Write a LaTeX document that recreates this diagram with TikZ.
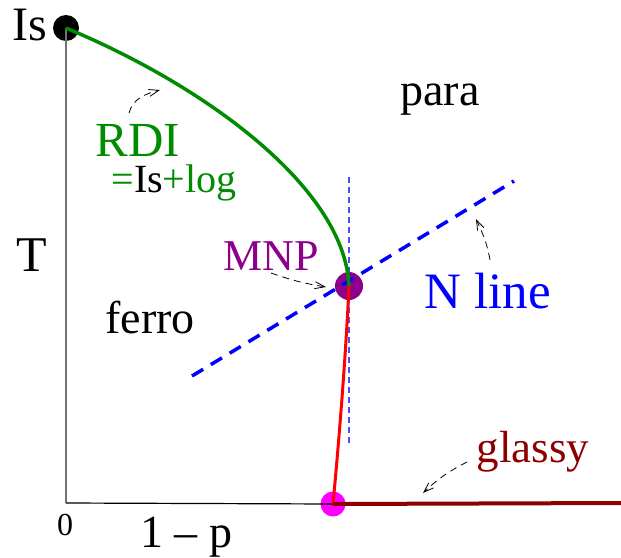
\documentclass[tikz,border=0pt]{standalone}
\usepackage{fontspec}
\setmainfont{Liberation Serif}
\usetikzlibrary{positioning,arrows.meta}

\definecolor{rdigreen}{rgb}{0,0.55,0}
\definecolor{mnppurple}{rgb}{0.55,0,0.55}
\definecolor{glassred}{rgb}{0.55,0,0}
\definecolor{pcpink}{rgb}{1,0,1}

\tikzset{
  lbl/.style={anchor=base,inner sep=0pt,font=\fontsize{46}{50}\selectfont},
  dot/.style={circle,fill,inner sep=0pt},
  hint/.style={-{Straight Barb[length=10pt,width=7pt]},line width=0.8pt,dash pattern=on 7pt off 5pt},
}

\begin{document}
\begin{tikzpicture}[x=1pt,y=-1pt]
\useasboundingbox (0,0) rectangle (621,557);

% dots
\node[dot,minimum size=26pt,black] (isdot) at (66,28) {};
\node[dot,minimum size=28pt,mnppurple] (mnp) at (349,286) {};
\node[dot,minimum size=25pt,pcpink] (pc) at (333,504) {};
\coordinate (orig) at (66,503);
\coordinate (xend) at (621,503);

% axes
\draw[gray!90!black,line width=1.5pt] (isdot.center) -- (orig);
\draw[line width=1.2pt] (orig) -- (pc.center);

% thin vertical guide through MNP
\draw[blue!70,line width=1.2pt,dash pattern=on 6pt off 4pt] (349,177) -- (349,445);

% N line (dashed)
\coordinate (nlo) at (192,376);
\coordinate (nhi) at (514,181);
\draw[blue,line width=3.5pt,dash pattern=on 13pt off 9pt] (nlo) -- (nhi);

% phase boundaries
\draw[rdigreen,line width=3.5pt] (isdot.center) .. controls (210,88) and (345,190) .. (mnp.center);
\draw[red,line width=3pt] (mnp.center) .. controls (346,350) and (340,430) .. (pc.center);
\draw[glassred,line width=4pt] (pc.center) -- (xend);

% labels
\node[lbl,font=\fontsize{48}{50}\selectfont] (islbl) at (30,40) {Is};
\node[lbl,font=\fontsize{50}{50}\selectfont] (tlbl) at (32,271) {T};
\node[lbl,font=\fontsize{32}{34}\selectfont] (zero) at (65,535) {0};
\node[lbl] (xlbl) at (186,547) {1 -- p};
\node[lbl] (para) at (440,105) {para};
\node[lbl] (ferro) at (150,333) {ferro};
\node[lbl,text=blue,font=\fontsize{51}{54}\selectfont] (nline) at (488,308) {N line};
\node[lbl,text=mnppurple,font=\fontsize{44}{48}\selectfont] (mnplbl) at (271,270) {MNP};
\node[lbl,text=rdigreen,font=\fontsize{49}{54}\selectfont] (rdi) at (138,156) {RDI};
\node[lbl,text=rdigreen,font=\fontsize{40}{46}\selectfont] (rdieq) at (174,192) {=\textcolor{black}{Is}+log};
\node[lbl,text=glassred,font=\fontsize{45}{48}\selectfont] (glassy) at (533,462) {glassy};

% pointer arrows
\coordinate (rdifrom) at (129,113);
\coordinate (rdito) at (160,90);
\draw[hint] (rdifrom) to[out=75,in=195] (rdito);
\coordinate (mnpfrom) at (271,273);
\coordinate (mnpto) at (326,287);
\draw[hint] (mnpfrom) to[bend right=5] (mnpto);
\coordinate (nfrom) at (490,260);
\coordinate (nto) at (476,219);
\draw[hint] (nfrom) to[out=100,in=-65] (nto);
\coordinate (gfrom) at (467,462);
\coordinate (gto) at (423,493);
\draw[hint] (gfrom) to[bend right=8] (gto);

\end{tikzpicture}
\end{document}
